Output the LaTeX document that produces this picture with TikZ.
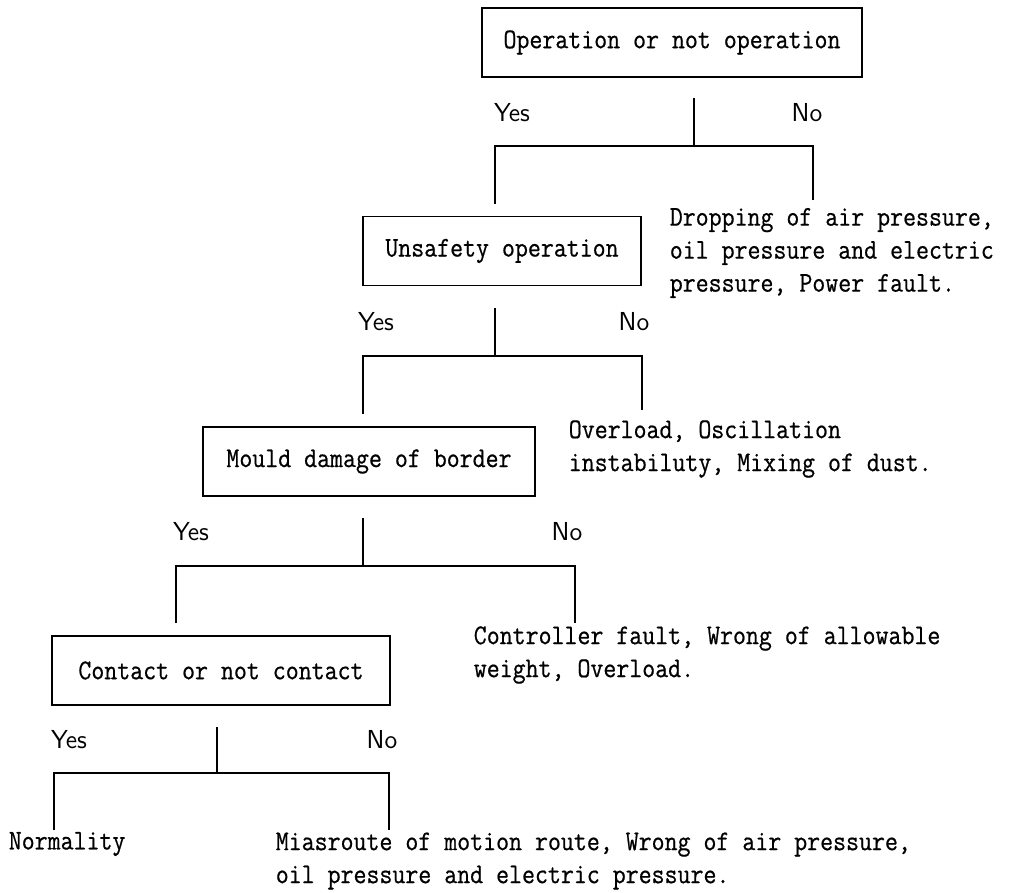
\documentclass[tikz,border=0pt]{standalone}
\usepackage{fontspec}
\setmonofont[FakeStretch=0.88,FakeBold=0.6]{Latin Modern Mono}

\begin{document}
\begin{tikzpicture}[x=0.5pt, y=-0.5pt, line width=0.8pt]
            \useasboundingbox (0,0) rectangle (1013,893);
            % questions
            \begin{scope}[every node/.style={draw, inner xsep=0pt, minimum height=34.5pt, font=\ttfamily\fontsize{14.3}{16.5}\selectfont}]
            \node[minimum width=190pt] (q1) at (672,42.5) {Operation or not operation};
            \node[minimum width=139pt] (q2) at (502,251) {Unsafety operation};
            \node[minimum width=166pt] (q3) at (369,461.5) {Mould damage of border};
            \node[minimum width=169pt] (q4) at (221,670.5) {Contact or not contact};
            \end{scope}
            % causes
            \begin{scope}[every node/.style={anchor=west, align=left, inner sep=0pt, font=\ttfamily\fontsize{14.3}{16.5}\selectfont}]
            \node (c1) at (669,253) {Dropping of air pressure,\\oil pressure and electric\\pressure, Power fault.};
            \node (c2) at (568,449) {Overload, Oscillation\\instabiluty, Mixing of dust.};
            \node (c3) at (473,655) {Controller fault, Wrong of allowable\\weight, Overload.};
            \node (c4) at (8,844) {Normality};
            \node (c5) at (275,861) {Miasroute of motion route, Wrong of air pressure,\\oil pressure and electric pressure.};
            \end{scope}
            % yes / no
            \begin{scope}[every node/.style={font=\sffamily\fontsize{13}{15}\selectfont}]
            \node (y1) at (512,113) {Yes};
            \node (n1) at (807,113) {No};
            \node (y2) at (376,322) {Yes};
            \node (n2) at (634,322) {No};
            \node (y3) at (191,532) {Yes};
            \node (n3) at (567,532) {No};
            \node (y4) at (69,740) {Yes};
            \node (n4) at (382,740) {No};
            \end{scope}
            % branches
            \coordinate (top1) at (694,98);  \coordinate (fork1) at (694,146);
            \coordinate (left1) at (495,204); \coordinate (right1) at (813,200);
            \coordinate (top2) at (495,308);  \coordinate (fork2) at (495,356);
            \coordinate (left2) at (363,414); \coordinate (right2) at (642,410);
            \coordinate (top3) at (363,518);  \coordinate (fork3) at (363,566);
            \coordinate (left3) at (176,623); \coordinate (right3) at (575,623);
            \coordinate (top4) at (217,727);  \coordinate (fork4) at (217,773);
            \coordinate (left4) at (54,830);  \coordinate (right4) at (389,830);
            \draw (top1) -- (fork1);
            \draw (left1) |- (fork1) -| (right1);
            \draw (top2) -- (fork2);
            \draw (left2) |- (fork2) -| (right2);
            \draw (top3) -- (fork3);
            \draw (left3) |- (fork3) -| (right3);
            \draw (top4) -- (fork4);
            \draw (left4) |- (fork4) -| (right4);
            \end{tikzpicture}
\end{document}
